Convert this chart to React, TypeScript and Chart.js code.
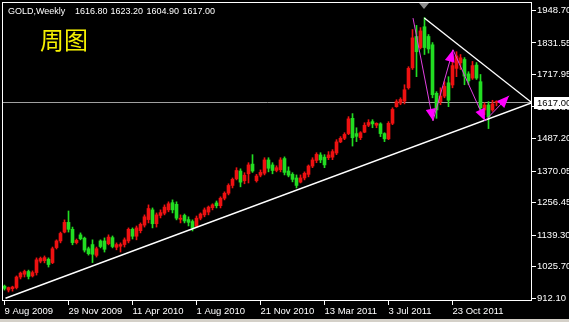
import React, { useEffect, useRef } from 'react';
import { Chart, registerables } from 'chart.js';

Chart.register(...registerables);

// ---------- data ----------
const SYMBOL = 'GOLD,Weekly';
const CAPTION = '周图';

const opens = [
  955, 941, 946, 950, 988, 998, 1008, 992, 1004, 1045, 1047, 1052, 1040, 1094, 1118, 1150,
  1185, 1160, 1112, 1140, 1128, 1090, 1105, 1066, 1118, 1118, 1108, 1130, 1095, 1099, 1105, 1118,
  1160, 1135, 1155, 1175, 1195, 1230, 1180, 1210, 1218, 1230, 1256, 1250, 1196, 1210, 1195, 1188,
  1170, 1200, 1212, 1222, 1238, 1255, 1245, 1272, 1290, 1318, 1342, 1370, 1335, 1360, 1395, 1335,
  1355, 1362, 1410, 1392, 1372, 1375, 1415, 1370, 1358, 1345, 1330, 1345, 1358, 1388, 1408, 1428,
  1420, 1418, 1420, 1435, 1475, 1488, 1505, 1560, 1505, 1490, 1510, 1535, 1548, 1535, 1540, 1505,
  1486, 1542, 1602, 1615, 1622, 1670, 1742, 1855, 1815, 1890, 1855, 1825, 1650, 1620, 1640, 1688,
  1680, 1740, 1760, 1772, 1720, 1705, 1752, 1692, 1590, 1608, 1590, 1616.8,
];
const highs = [
  959, 952, 955, 992, 1006, 1013, 1013, 1010, 1057, 1060, 1064, 1057, 1096, 1122, 1150, 1194,
  1226, 1168, 1125, 1147, 1132, 1096, 1122, 1096, 1122, 1129, 1140, 1136, 1111, 1111, 1129, 1165,
  1165, 1172, 1183, 1212, 1248, 1237, 1219, 1230, 1248, 1259, 1266, 1259, 1212, 1215, 1205, 1194,
  1208, 1219, 1237, 1244, 1252, 1262, 1277, 1295, 1324, 1345, 1382, 1378, 1364, 1400, 1429, 1358,
  1374, 1418, 1418, 1400, 1389, 1418, 1421, 1385, 1364, 1356, 1356, 1367, 1392, 1418, 1436, 1436,
  1429, 1440, 1447, 1483, 1494, 1508, 1566, 1577, 1526, 1512, 1544, 1555, 1555, 1544, 1544, 1508,
  1548, 1598, 1627, 1634, 1681, 1746, 1880, 1895, 1887, 1923, 1862, 1833, 1656, 1670, 1692, 1710,
  1790, 1800, 1790, 1779, 1728, 1765, 1761, 1718, 1616, 1620, 1625, 1623.2,
];
const lows = [
  941, 934, 937, 945, 981, 988, 981, 988, 995, 1039, 1039, 1024, 1036, 1089, 1111, 1147,
  1150, 1104, 1107, 1122, 1078, 1067, 1040, 1060, 1093, 1078, 1104, 1093, 1086, 1078, 1096, 1111,
  1125, 1122, 1147, 1168, 1183, 1165, 1168, 1201, 1212, 1223, 1219, 1194, 1183, 1183, 1172, 1154,
  1168, 1194, 1205, 1212, 1230, 1237, 1237, 1266, 1284, 1309, 1338, 1313, 1324, 1327, 1365, 1330,
  1349, 1356, 1367, 1360, 1367, 1367, 1356, 1349, 1331, 1309, 1327, 1338, 1349, 1382, 1400, 1400,
  1382, 1411, 1411, 1429, 1472, 1483, 1501, 1460, 1476, 1483, 1508, 1530, 1526, 1526, 1494, 1476,
  1483, 1537, 1600, 1609, 1612, 1665, 1736, 1710, 1810, 1790, 1795, 1634, 1560, 1609, 1634, 1602,
  1670, 1710, 1736, 1681, 1681, 1700, 1700, 1584, 1573, 1523, 1585, 1604.9,
];
const closes = [
  947, 950, 952, 988, 1002, 1008, 990, 1004, 1050, 1055, 1058, 1033, 1090, 1118, 1145, 1185,
  1160, 1112, 1120, 1126, 1085, 1072, 1070, 1090, 1098, 1088, 1132, 1098, 1105, 1105, 1122, 1160,
  1135, 1165, 1178, 1205, 1235, 1180, 1212, 1220, 1240, 1252, 1230, 1200, 1200, 1190, 1185, 1165,
  1200, 1215, 1230, 1240, 1248, 1245, 1272, 1290, 1318, 1340, 1372, 1330, 1355, 1392, 1370, 1352,
  1365, 1410, 1380, 1372, 1382, 1410, 1365, 1355, 1340, 1318, 1345, 1362, 1388, 1410, 1430, 1410,
  1392, 1428, 1440, 1475, 1488, 1502, 1558, 1490, 1495, 1508, 1535, 1545, 1540, 1542, 1505, 1486,
  1542, 1592, 1620, 1628, 1663, 1740, 1850, 1800, 1875, 1815, 1810, 1645, 1590, 1640, 1675, 1625,
  1750, 1785, 1778, 1712, 1695, 1750, 1705, 1598, 1608, 1565, 1612, 1617.0,
];

const xTickBars = [0, 16, 32, 48, 64, 80, 96, 112];
const xTickLabels = [
  '9 Aug 2009', '29 Nov 2009', '11 Apr 2010', '1 Aug 2010',
  '21 Nov 2010', '13 Mar 2011', '3 Jul 2011', '23 Oct 2011',
];
const yTickValues = [912.1, 1025.7, 1139.3, 1256.45, 1370.05, 1487.2, 1600.8, 1717.95, 1831.55, 1948.7];

const bidPrice = 1617.0;
const supportLine = [{ x: 0.25, y: 911.4 }, { x: 131.875, y: 1616.0 }];
const resistanceLine = [{ x: 104.95, y: 1921.3 }, { x: 131.875, y: 1616.0 }];
const zigzag = [
  { x: 102.125, y: 1921.3 },
  { x: 107.125, y: 1551.1 },
  { x: 112.125, y: 1807.1 },
  { x: 120.125, y: 1551.1 },
  { x: 126.125, y: 1641.2 },
];
const shiftMarkerBar = 104.875;

// ---------- view ----------
const X_MIN = -0.375;
const X_MAX = 131.875;
const Y_MAX = 1975.63;
const Y_MIN = 901.55;

const W = 569;
const H = 322;
const RED = '#EE1111';
const GREEN = '#22DD22';
const PINK = '#E040E0';
const FONT = "'Liberation Sans', Arial, sans-serif";

const decor = {
  id: 'decor',
  beforeDraw(chart: any) {
    const ctx = chart.ctx;
    ctx.save();
    ctx.fillStyle = '#000';
    ctx.fillRect(0, 0, chart.width, chart.height);
    ctx.restore();
  },
  afterDatasetsDraw(chart: any) {
    const ctx = chart.ctx;
    const xs = chart.scales.x;
    const ys = chart.scales.y;
    ctx.save();
    ctx.fillStyle = '#FF00FF';
    for (let i = 1; i < zigzag.length; i++) {
      const px = xs.getPixelForValue(zigzag[i - 1].x);
      const py = ys.getPixelForValue(zigzag[i - 1].y);
      const qx = xs.getPixelForValue(zigzag[i].x);
      const qy = ys.getPixelForValue(zigzag[i].y);
      const len = Math.hypot(qx - px, qy - py);
      const dx = (qx - px) / len;
      const dy = (qy - py) / len;
      const L = 12;
      const hw = 5;
      const bx = qx - dx * L;
      const by = qy - dy * L;
      ctx.beginPath();
      ctx.moveTo(qx, qy);
      ctx.lineTo(bx - dy * hw, by + dx * hw);
      ctx.lineTo(bx + dy * hw, by - dx * hw);
      ctx.closePath();
      ctx.fill();
    }
    ctx.restore();
  },
  afterDraw(chart: any) {
    const ctx = chart.ctx;
    const a = chart.chartArea;
    const xs = chart.scales.x;
    const ys = chart.scales.y;
    ctx.save();
    // frame
    ctx.strokeStyle = '#FFFFFF';
    ctx.lineWidth = 1;
    ctx.strokeRect(Math.floor(a.left) - 0.5, Math.floor(a.top) - 0.5, Math.round(a.right - a.left), Math.round(a.bottom - a.top));
    // shift marker
    const mx = xs.getPixelForValue(shiftMarkerBar);
    ctx.fillStyle = '#8C8C8C';
    ctx.beginPath();
    ctx.moveTo(mx - 5, a.top);
    ctx.lineTo(mx + 5, a.top);
    ctx.lineTo(mx, a.top + 6);
    ctx.closePath();
    ctx.fill();
    // header
    const n = closes.length - 1;
    ctx.fillStyle = '#FFFFFF';
    ctx.font = `9px ${FONT}`;
    ctx.textBaseline = 'middle';
    ctx.textAlign = 'left';
    ctx.fillText(SYMBOL, 8, 12);
    const vals = [opens[n], highs[n], lows[n], closes[n]];
    const vx = [75, 110.5, 146.5, 182.5];
    vals.forEach((v, i) => ctx.fillText(v.toFixed(2), vx[i], 12));
    // caption
    ctx.fillStyle = '#F5F000';
    ctx.font = `24px 'Noto Sans CJK SC', sans-serif`;
    ctx.fillText(CAPTION, 40, 40);
    // bid box
    const by = Math.round(ys.getPixelForValue(bidPrice));
    ctx.fillStyle = '#FFFFFF';
    ctx.fillRect(534, by - 6, W - 534, 12);
    ctx.fillStyle = '#000000';
    ctx.font = `9.5px ${FONT}`;
    ctx.fillText(closes[n].toFixed(2), 537, by + 0.5);
    // bottom band
    ctx.fillStyle = '#D4D0C8';
    ctx.fillRect(0, 319, W, 3);
    ctx.restore();
  },
};

export default function App() {
  const ref = useRef<HTMLCanvasElement>(null);
  useEffect(() => {
    document.body.style.margin = '0';
    const idx = closes.map((_, i) => i);
    const colors = idx.map((i) => (closes[i] >= opens[i] ? RED : GREEN));
    const chart = new Chart(ref.current as HTMLCanvasElement, {
      type: 'bar',
      data: {
        datasets: [
          {
            type: 'line',
            data: zigzag,
            borderColor: PINK,
            borderWidth: 1,
            pointRadius: 0,
            order: 1,
          } as any,
          {
            type: 'line',
            data: supportLine,
            borderColor: '#FFFFFF',
            borderWidth: 1.4,
            pointRadius: 0,
            order: 2,
          } as any,
          {
            type: 'line',
            data: resistanceLine,
            borderColor: '#FFFFFF',
            borderWidth: 1.4,
            pointRadius: 0,
            order: 2,
          } as any,
          {
            type: 'bar',
            data: idx.map((i) => ({ x: i, y: [Math.min(opens[i], closes[i]), Math.max(opens[i], closes[i])] })),
            backgroundColor: colors,
            borderWidth: 0,
            barThickness: 3,
            grouped: false,
            minBarLength: 1,
            order: 3,
          } as any,
          {
            type: 'bar',
            data: idx.map((i) => ({ x: i, y: [lows[i], highs[i]] })),
            backgroundColor: colors,
            borderWidth: 0,
            barThickness: 1,
            grouped: false,
            order: 4,
          } as any,
          {
            type: 'line',
            data: [{ x: X_MIN, y: bidPrice }, { x: X_MAX, y: bidPrice }],
            borderColor: '#A0A0A0',
            borderWidth: 1,
            pointRadius: 0,
            order: 5,
          } as any,
        ],
      },
      options: {
        animation: false,
        responsive: false,
        devicePixelRatio: 1,
        events: [],
        layout: { padding: { left: 3, top: 3, right: 0, bottom: 0 } },
        plugins: { legend: { display: false }, tooltip: { enabled: false } },
        scales: {
          x: {
            type: 'linear',
            min: X_MIN,
            max: X_MAX,
            offset: false,
            afterBuildTicks: (s: any) => {
              s.ticks = xTickBars.map((v) => ({ value: v }));
            },
            afterFit: (s: any) => {
              s.height = 21;
              s.paddingLeft = 0;
              s.paddingRight = 0;
              s.paddingTop = 0;
              s.paddingBottom = 0;
            },
            grid: { drawOnChartArea: false, drawTicks: true, tickLength: 4, tickColor: '#FFFFFF', offset: false },
            border: { display: false },
            ticks: {
              color: '#FFFFFF',
              align: 'start',
              autoSkip: false,
              maxRotation: 0,
              minRotation: 0,
              padding: 1,
              font: { family: FONT, size: 9.5 },
              callback: (v: any) => {
                const k = xTickBars.indexOf(Number(v));
                return k >= 0 ? xTickLabels[k] : '';
              },
            },
          },
          y: {
            type: 'linear',
            position: 'right',
            min: Y_MIN,
            max: Y_MAX,
            afterBuildTicks: (s: any) => {
              s.ticks = yTickValues.map((v) => ({ value: v }));
            },
            afterFit: (s: any) => {
              s.width = W - 532;
              s.paddingLeft = 0;
              s.paddingRight = 0;
              s.paddingTop = 0;
              s.paddingBottom = 0;
            },
            grid: { drawOnChartArea: false, drawTicks: true, tickLength: 4, tickColor: '#FFFFFF' },
            border: { display: false },
            ticks: {
              color: '#FFFFFF',
              autoSkip: false,
              padding: 1,
              font: { family: FONT, size: 9.5 },
              callback: (v: any) => Number(v).toFixed(2),
            },
          },
        },
      } as any,
      plugins: [decor],
    });
    return () => chart.destroy();
  }, []);
  return (
    <div style={{ position: 'fixed', left: 0, top: 0, width: W, height: H, background: '#000' }}>
      <canvas ref={ref} width={W} height={H} style={{ display: 'block', width: W, height: H }} />
    </div>
  );
}
